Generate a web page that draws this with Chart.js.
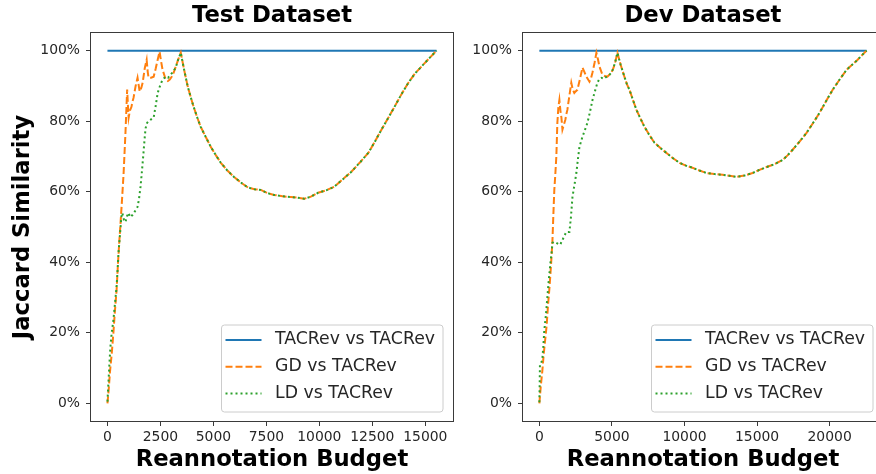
<!DOCTYPE html>
<html>
<head>
<meta charset="utf-8">
<script src="https://cdn.jsdelivr.net/npm/chart.js@4.4.1/dist/chart.umd.min.js"></script>
<style>
  html, body { margin: 0; padding: 0; background: #fff; overflow: hidden; width: 876px; height: 474px; }
  .caixa { position: absolute; top: 0; height: 474px; }
  #caixaTest { left: 0; width: 462px; }
  #caixaDev { left: 462px; width: 430px; }
</style>
</head>
<body>
<div class="caixa" id="caixaTest"><canvas id="testChart"></canvas></div>
<div class="caixa" id="caixaDev"><canvas id="devChart"></canvas></div>
<script>
const azul = '#1f77b4';
const laranja = '#ff7f0e';
const verde = '#2ca02c';
const corTexto = '#262626';
const corEixo = '#3a3a3a';
const fonte = '"DejaVu Sans", sans-serif';

const rotulos = ['TACRev vs TACRev', 'GD vs TACRev', 'LD vs TACRev'];
const yTicks = [0, 20, 40, 60, 80, 100];
const xTicksTest = [0, 2500, 5000, 7500, 10000, 12500, 15000];
const xTicksDev = [0, 5000, 10000, 15000, 20000];

// Test dataset
const testMax = 15530;
const testGdX = [0, 60, 120, 200, 280, 350, 430, 500, 560, 620, 690, 760, 850, 930, 970, 1000, 1060, 1130, 1180, 1230, 1330, 1420, 1520, 1600, 1660, 1760, 1850, 1900, 1940, 2060, 2180, 2280, 2370, 2460, 2530, 2600, 2750, 2850, 2940, 3030, 3125, 3220, 3340];
const testGdY = [0, 4, 9, 14, 20, 26, 32, 40, 46, 51.4, 58, 65, 76.7, 89, 84, 81, 83, 84, 85.5, 86.6, 90, 92.3, 88.4, 89.5, 90.9, 95, 97.4, 94, 92.3, 92.3, 92.6, 95, 97.4, 99.7, 97, 94.6, 91.8, 91.4, 91.8, 92.6, 93.8, 95.4, 97.5];
const testLdX = [0, 30, 60, 100, 140, 200, 280, 350, 430, 480, 520, 580, 620, 660, 700, 780, 850, 920, 990, 1080, 1180, 1300, 1420, 1490, 1560, 1630, 1700, 1760, 1800, 1870, 1940, 2060, 2180, 2280, 2370, 2480, 2600, 2750, 2860, 2980, 3100, 3220, 3340];
const testLdY = [0.5, 4, 7.4, 12, 16, 20, 23.6, 28, 33, 38, 42.6, 47, 50, 53, 54, 52, 51.4, 53, 54, 52.8, 53.4, 54.5, 55.7, 58, 61.4, 66, 71, 75.5, 78, 79.5, 80, 80.5, 81, 84.5, 88, 90, 91.8, 92.6, 92.3, 93.2, 94, 95.2, 97.5];
const testTailX = [3460, 3620, 3790, 3930, 4070, 4240, 4400, 4640, 4880, 5120, 5350, 5660, 5970, 6300, 6630, 6940, 7240, 7550, 7860, 8260, 8660, 8970, 9280, 9600, 9940, 10320, 10700, 11100, 11500, 11900, 12310, 12620, 12930, 13240, 13540, 13870, 14200, 14510, 14820, 15180, 15530];
const testTailY = [99.4, 94.5, 89.8, 86.8, 84, 81, 78.4, 75.5, 72.7, 70.3, 68.2, 66, 64.2, 62.6, 61.2, 60.7, 60.5, 59.6, 59.1, 58.7, 58.5, 58.3, 58.0, 58.6, 59.7, 60.4, 61.4, 63.5, 65.6, 68.2, 71, 74.2, 77.6, 80.8, 84, 87.6, 90.9, 93.5, 95.5, 97.8, 100];

// Dev dataset
const devMax = 22550;
const devGdX = [0, 100, 200, 300, 400, 500, 600, 700, 800, 900, 960, 1030, 1100, 1170, 1240, 1310, 1380, 1450, 1520, 1590, 1690, 1790, 1860, 1930, 2060, 2200, 2300, 2410, 2520, 2620, 2800, 2970, 3100, 3240, 3450, 3560, 3660, 3800, 3930, 4040, 4140, 4340, 4500, 4690, 4970, 5100, 5240];
const devGdY = [0, 5, 9, 14, 18, 22, 28, 33, 39, 46, 53, 60.5, 65, 70, 79.5, 84, 86, 83, 81, 77.6, 79, 80.4, 82, 83.2, 87, 90.9, 89, 88, 88.5, 88.9, 92, 95.2, 94, 92.6, 91.2, 92.2, 93.8, 96.5, 99.4, 97.5, 95.5, 93.2, 92.8, 92.6, 93.8, 95, 97];
const devLdX = [0, 20, 40, 100, 200, 270, 340, 450, 550, 650, 760, 850, 900, 1000, 1170, 1300, 1450, 1520, 1590, 1720, 1860, 2070, 2180, 2280, 2420, 2550, 2650, 2760, 2970, 3140, 3310, 3480, 3660, 3830, 4000, 4140, 4280, 4450, 4620, 4800, 4970, 5100, 5240];
const devLdY = [0.3, 5, 11, 11.4, 12.2, 16, 20.7, 25, 30, 35, 39.8, 43, 45.5, 45.8, 45.5, 45.2, 45, 45.8, 46.3, 47.5, 48.6, 48.6, 53, 58.5, 62, 65.3, 69, 72.7, 75.6, 77.5, 79.5, 82.5, 86, 88.5, 90.9, 92, 92.3, 92, 92.6, 93, 93.8, 95, 97];
const devTailX = [5380, 5600, 5860, 6030, 6210, 6450, 6690, 6960, 7240, 7590, 7930, 8340, 8760, 9210, 9660, 10100, 10550, 11030, 11520, 12070, 12620, 13100, 13590, 14140, 14690, 15170, 15660, 16210, 16760, 17100, 17450, 17930, 18410, 18860, 19310, 19760, 20210, 20690, 21170, 21550, 21930, 22250, 22550];
const devTailY = [99.4, 96, 92.6, 90.5, 88.9, 86, 83.2, 80.8, 78.4, 76, 73.9, 72.4, 71, 69.5, 68.2, 67.4, 66.8, 66, 65.3, 65, 64.8, 64.5, 64.2, 64.6, 65.3, 66.2, 67, 67.8, 69, 70.3, 71.9, 74.2, 76.7, 79.5, 82.4, 85.7, 88.9, 91.8, 94.6, 96, 97.4, 98.8, 100];

function pontos(xs, ys) {
  return xs.map((x, i) => ({ x: x, y: ys[i] }));
}

// moldura completa (4 lados) como no matplotlib
const moldura = {
  id: 'moldura',
  afterDatasetsDraw(chart) {
    const { ctx, chartArea: a } = chart;
    ctx.save();
    ctx.strokeStyle = corEixo;
    ctx.lineWidth = 1;
    ctx.strokeRect(Math.round(a.left) - 0.5, Math.round(a.top) - 0.5, Math.round(a.right - a.left) + 1, Math.round(a.bottom - a.top) + 1);
    ctx.restore();
  }
};

// titulo centrado sobre a area do grafico
const tituloCentro = {
  id: 'tituloCentro',
  afterDraw(chart, args, opts) {
    const { ctx, chartArea: a } = chart;
    ctx.save();
    ctx.font = 'bold 22.7px ' + fonte;
    ctx.fillStyle = '#000';
    ctx.textAlign = 'center';
    ctx.textBaseline = 'middle';
    ctx.fillText(opts.text, (a.left + a.right) / 2, 16.5);
    ctx.restore();
  }
};

// legenda dentro do grafico, canto inferior direito
const legendaDentro = {
  id: 'legendaDentro',
  afterDraw(chart) {
    const { ctx, chartArea: a } = chart;
    const ds = chart.data.datasets;
    ctx.save();
    ctx.font = '17.3px ' + fonte;
    const textoW = Math.max(...ds.map(d => ctx.measureText(d.label).width));
    const w = 4 + 36 + 13.5 + textoW + 8;
    const h = 87;
    const x = a.right - 10 - w;
    const y = a.bottom - 9 - h;
    ctx.beginPath();
    ctx.roundRect(x, y, w, h, 3);
    ctx.fillStyle = 'rgba(255,255,255,0.8)';
    ctx.fill();
    ctx.strokeStyle = '#cccccc';
    ctx.lineWidth = 1;
    ctx.stroke();
    ds.forEach((d, i) => {
      const cy = y + 15 + i * 26.7;
      ctx.beginPath();
      ctx.setLineDash(d.borderDash || []);
      ctx.strokeStyle = d.borderColor;
      ctx.lineWidth = 2;
      ctx.moveTo(x + 4, cy);
      ctx.lineTo(x + 40, cy);
      ctx.stroke();
      ctx.setLineDash([]);
      ctx.fillStyle = corTexto;
      ctx.textAlign = 'left';
      ctx.textBaseline = 'middle';
      ctx.fillText(d.label, x + 53.5, cy);
    });
    ctx.restore();
  }
};

function criarGrafico(id, titulo, xMax, xTicks, gd, ld, yLargura, yTitulo) {
  return new Chart(document.getElementById(id), {
    type: 'line',
    data: {
      datasets: [
        { label: rotulos[0], data: pontos([0, xMax], [100, 100]), borderColor: azul, borderWidth: 2, order: 3 },
        { label: rotulos[1], data: gd, borderColor: laranja, borderWidth: 2, borderDash: [7, 3], order: 2 },
        { label: rotulos[2], data: ld, borderColor: verde, borderWidth: 2, borderDash: [2, 3], order: 1 }
      ]
    },
    options: {
      responsive: true,
      maintainAspectRatio: false,
      animation: false,
      layout: { padding: { top: 33, right: 9, left: 0, bottom: 0 } },
      elements: { point: { radius: 0 }, line: { tension: 0 } },
      plugins: {
        legend: { display: false },
        tooltip: { enabled: false },
        tituloCentro: { text: titulo }
      },
      scales: {
        x: {
          type: 'linear',
          min: -xMax * 0.05,
          max: xMax * 1.05,
          afterBuildTicks: s => { s.ticks = xTicks.map(v => ({ value: v })); },
          afterFit: s => { s.height = 53; },
          ticks: { color: corTexto, font: { family: fonte, size: 13.9 }, padding: 3, maxRotation: 0, autoSkip: false, callback: v => String(v) },
          grid: { drawOnChartArea: false, drawTicks: true, tickLength: 5, color: corEixo },
          border: { display: false },
          title: { display: true, text: 'Reannotation Budget', color: '#000', font: { family: fonte, size: 22.7, weight: 'bold' }, padding: { top: 0, bottom: 0.5 } }
        },
        y: {
          min: -5,
          max: 105,
          afterBuildTicks: s => { s.ticks = yTicks.map(v => ({ value: v })); },
          afterFit: s => { s.width = yLargura; },
          ticks: { color: corTexto, font: { family: fonte, size: 13.9 }, padding: 6, callback: v => v + '%' },
          grid: { drawOnChartArea: false, drawTicks: true, tickLength: 5, color: corEixo },
          border: { display: false },
          title: { display: yTitulo, text: 'Jaccard Similarity', color: '#000', font: { family: fonte, size: 22.7, weight: 'bold' }, padding: { top: 9, bottom: 0 } }
        }
      }
    },
    plugins: [moldura, tituloCentro, legendaDentro]
  });
}

criarGrafico('testChart', 'Test Dataset', testMax, xTicksTest,
  pontos(testGdX.concat(testTailX), testGdY.concat(testTailY)),
  pontos(testLdX.concat(testTailX), testLdY.concat(testTailY)),
  91, true);

criarGrafico('devChart', 'Dev Dataset', devMax, xTicksDev,
  pontos(devGdX.concat(devTailX), devGdY.concat(devTailY)),
  pontos(devLdX.concat(devTailX), devLdY.concat(devTailY)),
  61, false);
</script>
</body>
</html>
